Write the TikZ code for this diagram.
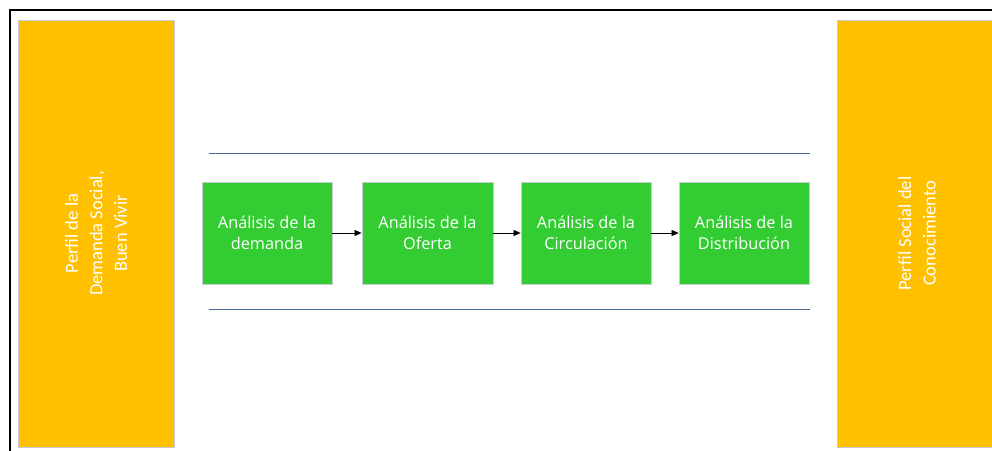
\documentclass[tikz,border=0pt]{standalone}
\usepackage{fontspec}
\setmainfont{Open Sans}
\newfontfamily\calfont{Carlito}
\usetikzlibrary{arrows.meta}
\definecolor{orangebox}{HTML}{FFC000}
\definecolor{greenbox}{HTML}{33CC33}
\definecolor{linecol}{HTML}{4A6A9C}
\definecolor{edgecol}{HTML}{C8CCD4}
\begin{document}
\begin{tikzpicture}[x=1pt,y=-1pt,
  sidebox/.style={fill=orangebox,draw=edgecol,line width=0.8pt,minimum width=156pt,minimum height=427pt,inner sep=0pt},
  sidetext/.style={text=white,font=\calfont\fontsize{18.5}{24.5}\selectfont,align=center,rotate=90},
  stepbox/.style={fill=greenbox,draw=edgecol,line width=0.8pt,minimum width=130pt,minimum height=102pt,inner sep=0pt,text=white,align=center,font=\fontsize{16.3}{20.5}\selectfont},
  flow/.style={-{Triangle[length=7pt,width=6pt]},line width=0.7pt,black},
  rule/.style={draw=linecol,line width=0.8pt}]
\useasboundingbox (0,0) rectangle (992,450);
\clip (0,0) rectangle (992,450);
\fill[white] (0,0) rectangle (992,450);
% frame
\draw[line width=1.8pt,black] (10,460) -- (10,10) -- (1000,10);
% side boxes
\node[sidebox] (left) at (96,233.5) {};
\node[sidetext] at (left.center) {Perfil de la\\Demanda Social,\\Buen Vivir};
\node[sidebox,minimum width=160pt] (right) at (917,233.5) {};
\node[sidetext] at (right.center) {Perfil Social del\\Conocimiento};
% rules
\coordinate (t1) at (209,153);
\coordinate (t2) at (810,153);
\coordinate (b1) at (209,309);
\coordinate (b2) at (810,309);
\draw[rule] (t1) -- (t2);
\draw[rule] (b1) -- (b2);
% steps
\node[stepbox] (s1) at (267,233) {Análisis de la\\demanda};
\node[stepbox,minimum width=131pt] (s2) at (427.5,233) {Análisis de la\\Oferta};
\node[stepbox] (s3) at (586,233) {Análisis de la\\Circulación};
\node[stepbox] (s4) at (744,233) {Análisis de la\\Distribución};
\draw[flow] (s1) -- (s2);
\draw[flow] (s2) -- (s3);
\draw[flow] (s3) -- (s4);
\end{tikzpicture}
\end{document}
